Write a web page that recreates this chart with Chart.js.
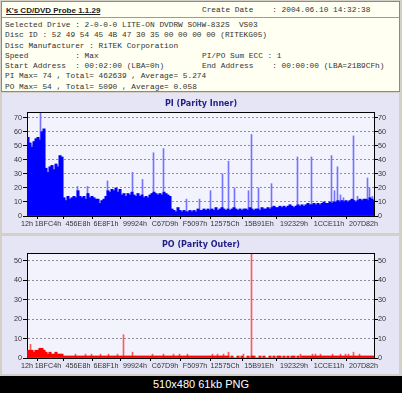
<!DOCTYPE html>
<html>
<head>
<meta charset="utf-8">
<script src="https://cdn.jsdelivr.net/npm/chart.js@4/dist/chart.umd.min.js"></script>
<style>
  html, body { margin: 0; padding: 0; }
  body { width: 402px; height: 393px; background: #d4d0c8; position: relative; overflow: hidden; }
  #hdr { position: absolute; left: 1px; top: 1px; width: 399px; height: 91px; box-sizing: border-box;
         background: #fffff2; border: 1px solid #8a8a8a; }
  #hdr .title { position: absolute; left: 4px; top: 4px; font: bold 8px "Liberation Sans", Arial, sans-serif;
                color: #222; text-decoration: underline; white-space: pre; }
  #hdr .sep { position: absolute; left: 0; right: 0; top: 15px; height: 1px; background: #9a9a9a; }
  .mono { position: absolute; font: 7.8px/10.3px "Liberation Mono", "Courier New", monospace; color: #333;
          white-space: pre; margin: 0; }
  .panel { position: absolute; left: 2px; width: 397px; background: #e5e5f5; }
  #piPanel { top: 93px; height: 140px; }
  #poPanel { top: 236px; height: 138px; }
  canvas { position: absolute; left: 0; }
  #cap { position: absolute; left: 0; top: 376px; width: 402px; height: 17px; background: #000; color: #fff;
         font: 11px/17px "Liberation Sans", Arial, sans-serif; text-align: center; }
</style>
</head>
<body>
<div id="hdr">
  <div class="title">K's CD/DVD Probe 1.1.29</div>
  <div class="sep"></div>
</div>
<pre class="mono" style="left:202px; top:5px;">Create Date    : 2004.06.10 14:32:38</pre>
<pre class="mono" style="left:5px; top:20px;">Selected Drive : 2-0-0-0 LITE-ON DVDRW SOHW-832S  VS03
Disc ID : 52 49 54 45 4B 47 30 35 00 00 00 00 (RITEKG05)
Disc Manufacturer : RiTEK Corporation
Speed          : Max
Start Address  : 00:02:00 (LBA=0h)
PI Max= 74 , Total= 462639 , Average= 5.274
PO Max= 54 , Total= 5090 , Average= 0.058</pre>
<pre class="mono" style="left:202px; top:50.9px;">PI/PO Sum ECC : 1
End Address    : 00:00:00 (LBA=21B9CFh)</pre>
<div class="panel" id="piPanel"></div>
<div class="panel" id="poPanel"></div>
<canvas id="piChart" width="402" height="141" style="top:92px"></canvas>
<canvas id="poChart" width="402" height="139" style="top:236px"></canvas>
<div id="cap">510x480 61kb PNG</div>
<script>
// x axis: sample number across the disc, labels are LBA (hex)
const sampleCount = 347;
const tickAt = [0, 21, 51, 79, 108, 138, 168, 198, 232, 267, 302, 336.5];
const tickLabels = ['12h', '1BFC4h', '456E8h', '6E8F1h', '99924h', 'C67D9h', 'F5097h',
                    '12575Ch', '15B91Eh', '192329h', '1CCE11h', '207D82h'];
const binSize = 2;

// PI errors, one value per 2 samples
const piValues = [
  56, 52, 49, 53, 55, 56, 54, 60, 62, 34,
  31, 35, 36, 33, 37, 35, 43, 42, 13, 11,
  14, 12, 13, 14, 13, 18, 14, 13, 14, 12,
  16, 13, 14, 13, 12, 12, 9, 11, 12, 14,
  18, 17, 19, 18, 20, 17, 19, 15, 16, 14,
  16, 15, 17, 15, 14, 16, 14, 15, 13, 14,
  13, 15, 16, 17, 16, 15, 16, 15, 17, 16,
  15, 14, 5, 4, 3, 6, 4, 3, 4, 3,
  3, 4, 3, 4, 3, 5, 4, 4, 5, 4,
  5, 4, 5, 4, 6, 4, 5, 6, 5, 4,
  5, 4, 5, 6, 5, 4, 5, 4, 5, 5,
  4, 6, 5, 4, 5, 5, 4, 6, 5, 5,
  6, 5, 6, 7, 6, 6, 7, 6, 7, 6,
  7, 8, 7, 6, 7, 8, 7, 8, 7, 8,
  9, 8, 8, 9, 8, 9, 8, 9, 10, 9,
  9, 10, 9, 10, 10, 11, 10, 11, 10, 11,
  10, 11, 12, 11, 10, 11, 12, 11, 12, 12,
  11, 13, 12, 11
];
// isolated PI peaks
const piPeakAt  = [13, 50, 60, 80, 105, 115, 126, 136, 159, 172, 183, 195, 201, 207, 221,
                   224, 231, 244, 270, 284, 304, 307, 310, 313, 316, 326, 330, 340, 342, 345];
const piPeakVal = [74, 21, 21, 25, 31, 26, 45, 48, 12, 12, 18, 30, 39, 20, 18,
                   58, 20, 23, 42, 42, 43, 18, 35, 15, 13, 57, 14, 27, 20, 14];

// PO errors, one value per 2 samples
const poValues = [
  4, 4, 4, 3, 4, 4, 5, 5, 4, 3,
  2, 3, 2, 2, 3, 2, 2, 2, 1, 1,
  1, 1, 1, 1, 1, 1, 1, 1, 1, 1,
  1, 1, 1, 1, 1, 1, 1, 1, 1, 1,
  1, 1, 1, 1, 1, 1, 1, 1, 1, 1,
  1, 1, 1, 1, 1, 1, 1, 1, 1, 1,
  1, 1, 1, 1, 1, 1, 1, 1, 1, 1,
  1, 1, 1, 1, 1, 1, 1, 1, 1, 1,
  1, 1, 1, 1, 1, 1, 1, 1, 1, 1,
  1, 1, 1, 1, 1, 1, 1, 1, 1, 1,
  1, 0, 1, 0, 0, 1, 0, 1, 0, 0,
  1, 0, 1, 1, 0, 0, 1, 0, 1, 0,
  0, 1, 0, 1, 0, 1, 1, 0, 1, 0,
  1, 0, 1, 1, 0, 1, 0, 1, 1, 1,
  1, 1, 1, 1, 1, 1, 1, 1, 1, 1,
  1, 1, 1, 1, 1, 1, 1, 1, 1, 1,
  1, 1, 1, 1, 1, 1, 1, 1, 1, 1,
  1, 1, 1, 1
];
const poPeakAt  = [3, 48, 58, 64, 73, 81, 90, 96, 105, 125, 136, 146, 152, 160, 185,
                   190, 196, 201, 216, 224, 273, 285, 288, 293, 305, 313, 318, 321, 326, 332];
const poPeakVal = [7, 2, 2, 2, 2, 2, 2, 12, 3, 2, 2, 2, 2, 2, 2,
                   2, 2, 3, 2, 54, 2, 2, 2, 2, 2, 2, 2, 2, 3, 2];

const tickFont = { family: 'Liberation Sans', size: 7.2 };
const tickColor = '#333';

const plotFrame = {
  id: 'plotFrame',
  beforeDraw(chart) {
    const a = chart.chartArea, ctx = chart.ctx;
    ctx.save();
    ctx.fillStyle = '#f3f3fd';
    ctx.fillRect(a.left, a.top, a.right - a.left, a.bottom - a.top);
    ctx.restore();
  },
  afterDraw(chart) {
    const a = chart.chartArea, ctx = chart.ctx;
    ctx.save();
    ctx.strokeStyle = '#000';
    ctx.lineWidth = 1;
    ctx.beginPath();
    ctx.moveTo(Math.round(a.left), Math.round(a.top) + 0.5);
    ctx.lineTo(Math.round(a.right), Math.round(a.top) + 0.5);
    ctx.stroke();
    ctx.restore();
  }
};

function binned(values) {
  return values.map((v, i) => ({ x: i * binSize + binSize / 2, y: v }));
}
function peaks(at, vals) {
  return at.map((s, i) => ({ x: s + 0.5, y: vals[i] }));
}

function yAxis(position, max, width) {
  return {
    type: 'linear', position: position, min: 0, max: max, display: true,
    afterFit: s => { s.width = width; },
    ticks: { stepSize: 10, includeBounds: false, font: tickFont, color: tickColor,
             padding: position === 'left' ? 1 : 0 },
    grid: {
      drawOnChartArea: position === 'left', color: '#8e8e9e', tickColor: '#000', tickLength: 4, tickBorderDash: []
    },
    border: { color: '#000', dash: [2, 2] }
  };
}

function drawErrorChart(canvas, title, titleTop, yMax, body, bodyColor, peakData, peakColor) {
  return new Chart(canvas, {
    type: 'bar',
    data: {
      datasets: [{
        data: body,
        backgroundColor: bodyColor,
        barThickness: 2.4,
        grouped: false,
        borderWidth: 0
      }, {
        data: peakData,
        backgroundColor: peakColor,
        barThickness: 1,
        grouped: false,
        borderWidth: 0
      }]
    },
    options: {
      responsive: false,
      animation: false,
      events: [],
      layout: { padding: 0 },
      scales: {
        x: {
          type: 'linear', min: 0, max: sampleCount, offset: false,
          afterBuildTicks: s => { s.ticks = tickAt.map(v => ({ value: v })); },
          afterFit: s => { s.height = 17; },
          ticks: { autoSkip: false, maxRotation: 0, font: tickFont, color: tickColor, padding: 1,
                   callback: (v, i) => tickLabels[i] },
          grid: { drawOnChartArea: false, tickColor: '#000', tickLength: 3 },
          border: { color: '#000' }
        },
        y: yAxis('left', yMax, 27),
        y2: yAxis('right', yMax, 28)
      },
      plugins: {
        legend: { display: false },
        tooltip: { enabled: false },
        title: {
          display: true,
          text: title,
          color: '#1f1f86',
          font: { family: 'DejaVu Sans', size: 8, weight: 'bold', lineHeight: 1 },
          padding: { top: titleTop, bottom: 4 }
        }
      }
    },
    plugins: [plotFrame]
  });
}

drawErrorChart(document.getElementById('piChart'), 'PI (Parity Inner)', 8, 74,
  binned(piValues), '#0000ff', peaks(piPeakAt, piPeakVal), '#7474ff');
drawErrorChart(document.getElementById('poChart'), 'PO (Parity Outer)', 5, 54,
  binned(poValues), '#ff0000', peaks(poPeakAt, poPeakVal), '#ff5a5a');
</script>
</body>
</html>
